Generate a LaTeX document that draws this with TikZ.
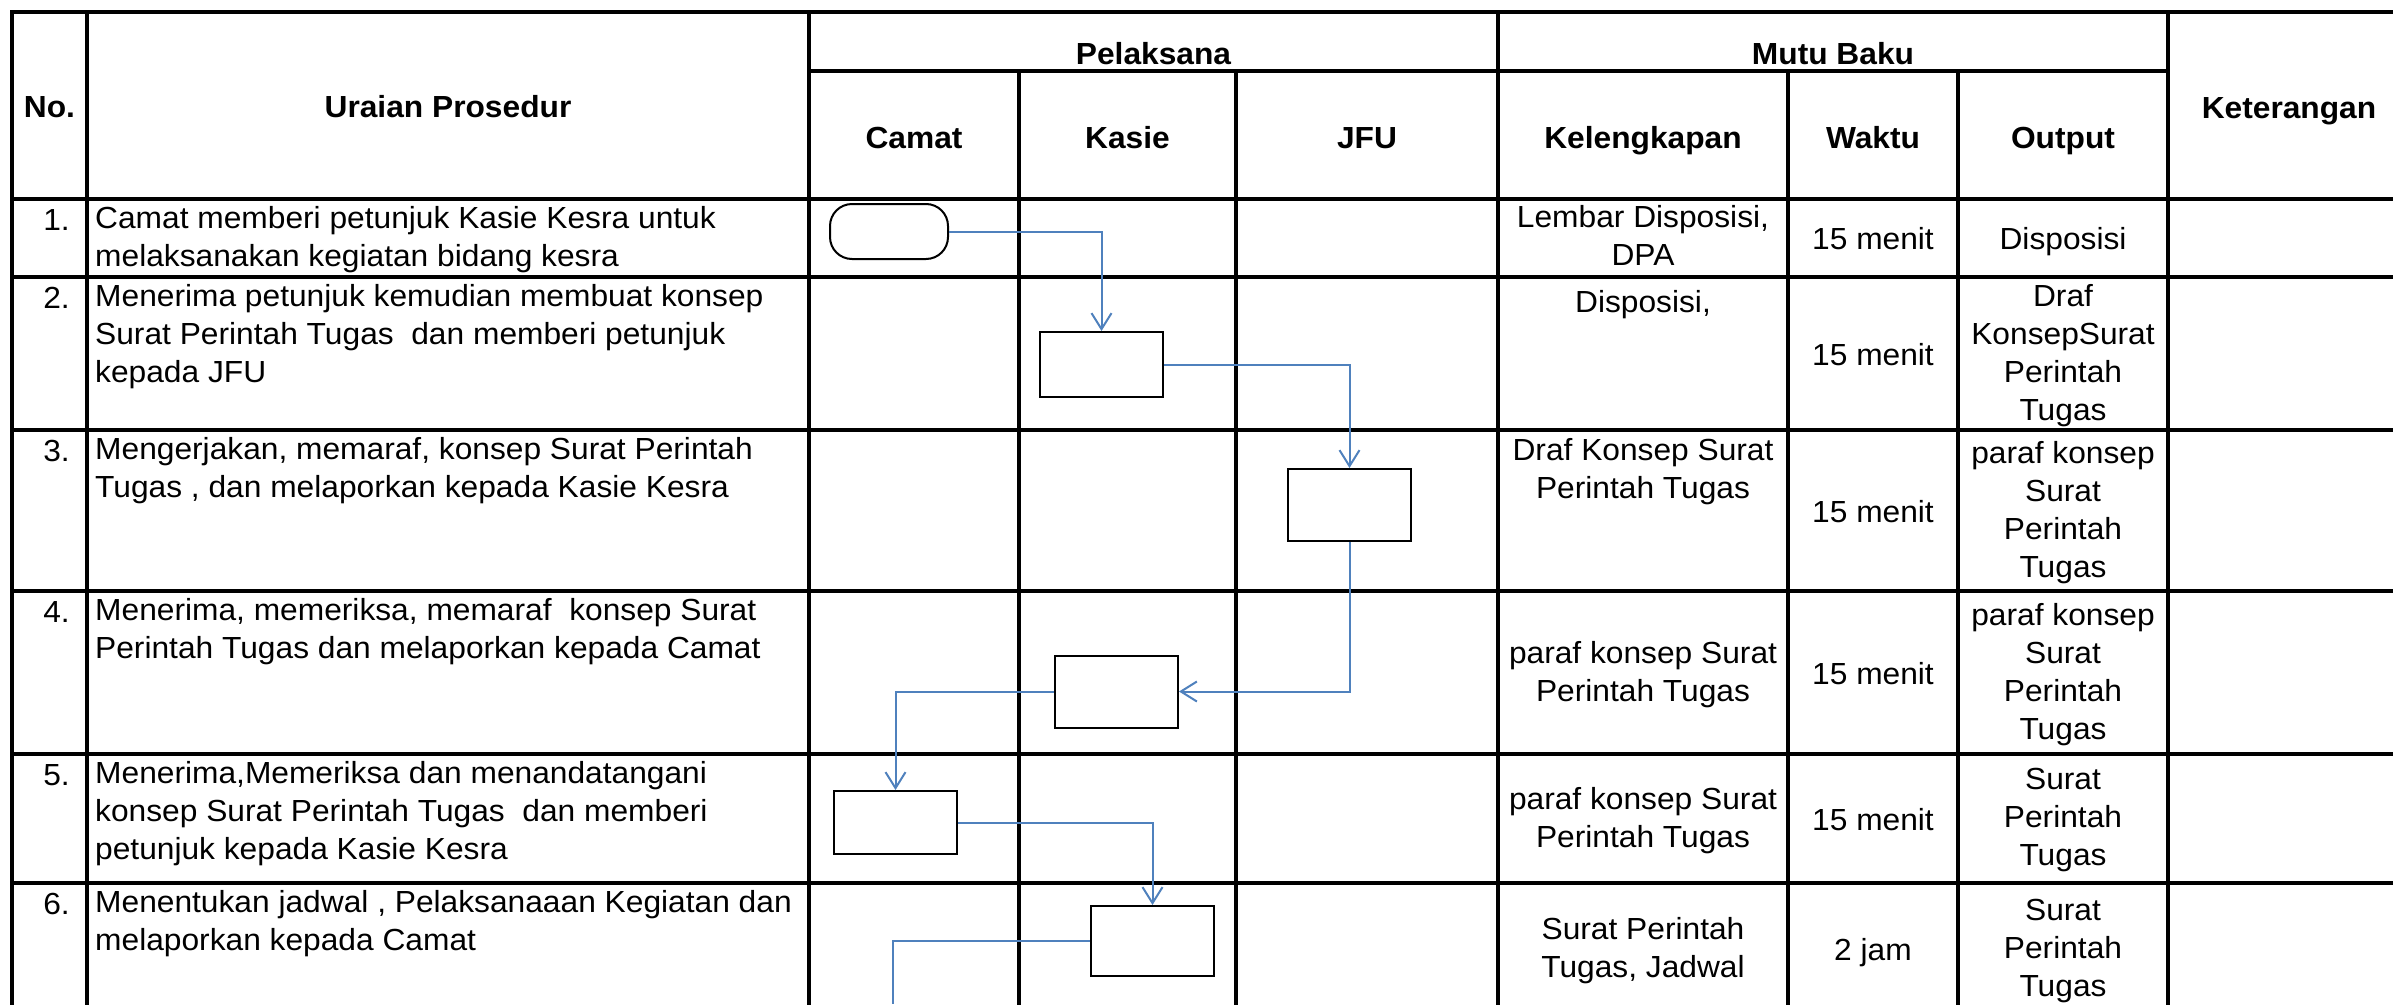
\documentclass[tikz,border=0pt]{standalone}
\usepackage{fontspec}
\setmainfont{Liberation Sans}[FakeStretch=1.04]
\usetikzlibrary{arrows.meta}
\definecolor{arrowblue}{RGB}{79,129,189}
\begin{document}
\begin{tikzpicture}[x=1pt,y=-1pt,
  grid/.style={line width=3.3pt, line cap=rect},
  box/.style={draw, line width=2pt, rectangle, inner sep=0pt, minimum width=123pt},
  term/.style={draw, line width=2pt, rounded corners=22pt, inner sep=0pt, minimum width=118pt, minimum height=55pt},
  conn/.style={draw=arrowblue, line width=2pt, -{Straight Barb[length=16pt,width=20pt]}},
  plain/.style={draw=arrowblue, line width=2pt},
  txt/.style={inner sep=0pt, font=\fontsize{30.5}{38}\selectfont, execute at begin node={\rule{0pt}{24pt}}},
  lt/.style={txt, align=left, anchor=north west},
  rt/.style={txt, align=right, anchor=north east},
  ct/.style={txt, align=center, anchor=north},
  hd/.style={txt, align=center, anchor=north, font=\fontsize{30.5}{38}\selectfont\bfseries},
]
\useasboundingbox (0,0) rectangle (2393,1004);
\fill[white] (0,0) rectangle (2393,1004);

% grid
\draw[grid] (12,12) -- (2393,12);
\draw[grid] (809,71) -- (2168,71);
\foreach \yy in {199,277,430,591,754,883} \draw[grid] (12,\yy) -- (2393,\yy);
\foreach \xx in {12,87,809,1498,2168} \draw[grid] (\xx,12) -- (\xx,1004);
\foreach \xx in {1019,1236,1788,1958} \draw[grid] (\xx,71) -- (\xx,1004);

% header
\node[hd] (hno) at (49.5,93.5) {No.};
\node[hd] (hur) at (448,93.5) {Uraian Prosedur};
\node[hd] (hpel) at (1153.5,40) {Pelaksana};
\node[hd] (hmb) at (1833,40) {Mutu Baku};
\node[hd] (hcam) at (914,124.5) {Camat};
\node[hd] (hkas) at (1127.5,124.5) {Kasie};
\node[hd] (hjfu) at (1367,124.5) {JFU};
\node[hd] (hkel) at (1643,124.5) {Kelengkapan};
\node[hd] (hwak) at (1873,124.5) {Waktu};
\node[hd] (hout) at (2063,124.5) {Output};
\node[hd] (hket) at (2289,94.5) {Keterangan};

% numbers
\node[rt] (n1) at (70,206) {1.};
\node[rt] (n2) at (70,284) {2.};
\node[rt] (n3) at (70,437) {3.};
\node[rt] (n4) at (70,598) {4.};
\node[rt] (n5) at (70,761) {5.};
\node[rt] (n6) at (70,890) {6.};

% uraian
\node[lt] (u1) at (95,206) {Camat memberi petunjuk Kasie Kesra untuk\\melaksanakan kegiatan bidang kesra};
\node[lt] (u2) at (95,284) {Menerima petunjuk kemudian membuat konsep\\Surat Perintah Tugas\ \ dan memberi petunjuk\\kepada JFU};
\node[lt] (u3) at (95,437) {Mengerjakan, memaraf, konsep Surat Perintah\\Tugas , dan melaporkan kepada Kasie Kesra};
\node[lt] (u4) at (95,598) {Menerima, memeriksa, memaraf\ \ konsep Surat\\Perintah Tugas dan melaporkan kepada Camat};
\node[lt] (u5) at (95,761) {Menerima,Memeriksa dan menandatangani\\konsep Surat Perintah Tugas\ \ dan memberi\\petunjuk kepada Kasie Kesra};
\node[lt] (u6) at (95,890) {Menentukan jadwal , Pelaksanaaan Kegiatan dan\\melaporkan kepada Camat};

% kelengkapan
\node[ct] (k1) at (1643,205) {Lembar Disposisi,\\DPA};
\node[ct] (k2) at (1643,288) {Disposisi,};
\node[ct] (k3) at (1643,438) {Draf Konsep Surat\\Perintah Tugas};
\node[ct] (k4) at (1643,641) {paraf konsep Surat\\Perintah Tugas};
\node[ct] (k5) at (1643,787) {paraf konsep Surat\\Perintah Tugas};
\node[ct] (k6) at (1643,917.5) {Surat Perintah\\Tugas, Jadwal};

% waktu
\node[ct] (w1) at (1873,225.5) {15 menit};
\node[ct] (w2) at (1873,341) {15 menit};
\node[ct] (w3) at (1873,498) {15 menit};
\node[ct] (w4) at (1873,660) {15 menit};
\node[ct] (w5) at (1873,806) {15 menit};
\node[ct] (w6) at (1873,936.5) {2 jam};

% output
\node[ct] (o1) at (2063,225.5) {Disposisi};
\node[ct] (o2) at (2063,284) {Draf\\KonsepSurat\\Perintah\\Tugas};
\node[ct] (o3) at (2063,441) {paraf konsep\\Surat\\Perintah\\Tugas};
\node[ct] (o4) at (2063,603) {paraf konsep\\Surat\\Perintah\\Tugas};
\node[ct] (o5) at (2063,768) {Surat\\Perintah\\Tugas};
\node[ct] (o6) at (2063,898.5) {Surat\\Perintah\\Tugas};

% flow shapes
\node[term] (t1) at (889,231.5) {};
\node[box, minimum height=65pt] (b2) at (1101.5,364.5) {};
\node[box, minimum height=72pt] (b3) at (1349.5,505) {};
\node[box, minimum height=72pt] (b4) at (1116.5,691.5) {};
\node[box, minimum height=63pt] (b5) at (895.5,822.5) {};
\node[box, minimum height=70pt] (b6) at (1152.5,941) {};
\coordinate (e6) at (893,1004);

% connectors
\draw[conn] (t1.east) -| (b2.north);
\draw[conn] (b2.east) -| (b3.north);
\draw[conn] (b3.south) |- (b4.east);
\draw[conn] (b4.west) -| (b5.north);
\draw[conn] (b5.east) -| (b6.north);
\draw[plain] (b6.west) -| (e6);
\end{tikzpicture}
\end{document}
